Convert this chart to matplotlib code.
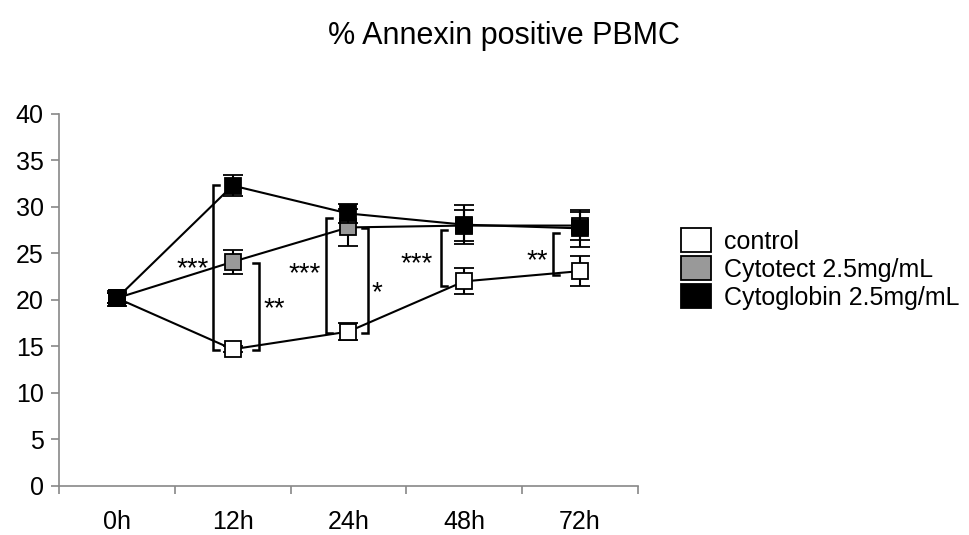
import matplotlib.pyplot as plt
from matplotlib.patches import Patch

plt.rcParams['font.family'] = ['Liberation Sans', 'DejaVu Sans']

times = ["0h", "12h", "24h", "48h", "72h"]

control = [20.2, 14.7, 16.6, 22.0, 23.1]
control_err = [0.5, 0.3, 0.9, 1.4, 1.6]
cytotect = [20.2, 24.1, 27.8, 28.0, 28.0]
cytotect_err = [0.5, 1.3, 2.0, 1.7, 1.5]
cytoglobin = [20.2, 32.3, 29.3, 28.1, 27.7]
cytoglobin_err = [0.8, 1.1, 1.0, 2.1, 2.0]

# significance brackets: x position, top, bottom, side the ends point to
brackets = [
    (0.83, 32.4, 14.6, 1),
    (1.23, 24.0, 14.6, -1),
    (1.81, 28.8, 16.4, 1),
    (2.17, 27.7, 16.4, -1),
    (2.80, 27.5, 21.5, 1),
    (3.77, 27.2, 22.7, 1),
]
stars = [
    (0.65, 23.9, "***"),
    (1.36, 19.6, "**"),
    (1.62, 23.4, "***"),
    (2.25, 21.3, "*"),
    (2.59, 24.4, "***"),
    (3.63, 24.8, "**"),
]

fig = plt.figure(figsize=(9.69, 5.35), dpi=100)
ax = fig.add_axes([0.061, 0.0916, 0.597, 0.6954])

x = list(range(len(times)))
series = [
    (control, control_err, "white", "control"),
    (cytotect, cytotect_err, "#999999", "Cytotect 2.5mg/mL"),
    (cytoglobin, cytoglobin_err, "black", "Cytoglobin 2.5mg/mL"),
]
for i, (vals, err, col, lab) in enumerate(series):
    ax.errorbar(x, vals, yerr=err, color="black", ecolor="black", elinewidth=1.5,
                capsize=7, capthick=1.8, lw=1.5, marker="s", markersize=12,
                markerfacecolor=col, markeredgecolor="black", markeredgewidth=1.3,
                zorder=3 + i)

for bx, top, bot, side in brackets:
    d = 0.05 * side
    ax.plot([bx + d, bx, bx, bx + d], [top, top, bot, bot], color="black", lw=1.8,
            solid_joinstyle="miter", zorder=2)
for sx, sy, s in stars:
    ax.text(sx, sy - 0.6, s, ha="center", va="center", fontsize=20)

ax.set_xlim(-0.5, 4.5)
ax.set_ylim(0, 40)
ax.set_yticks(range(0, 41, 5))
ax.set_xticks(x)
ax.set_xticklabels(times)
ax.set_xticks([i - 0.5 for i in range(6)], minor=True)
ax.tick_params(axis="x", which="major", length=0, pad=17, labelsize=18)
ax.tick_params(axis="x", which="minor", length=6, color="#888888", width=1.2)
ax.tick_params(axis="y", length=6, color="#888888", width=1.2, labelsize=18, pad=5)
for s in ["top", "right"]:
    ax.spines[s].set_visible(False)
for s in ["left", "bottom"]:
    ax.spines[s].set_color("#888888")
    ax.spines[s].set_linewidth(1.2)

fig.text(0.52, 0.932, "% Annexin positive PBMC", ha="center", va="center", fontsize=22)

handles = [Patch(facecolor=c, edgecolor="black", linewidth=1.3) for _, _, c, _ in series]
labels = [lab for _, _, _, lab in series]
fig.legend(handles, labels, loc="center left", bbox_to_anchor=(0.69, 0.497),
           frameon=False, fontsize=18, handlelength=1.2, handleheight=1.1,
           handletextpad=0.5, labelspacing=0.1, borderpad=0)

fig.savefig("out.png", dpi=100)
